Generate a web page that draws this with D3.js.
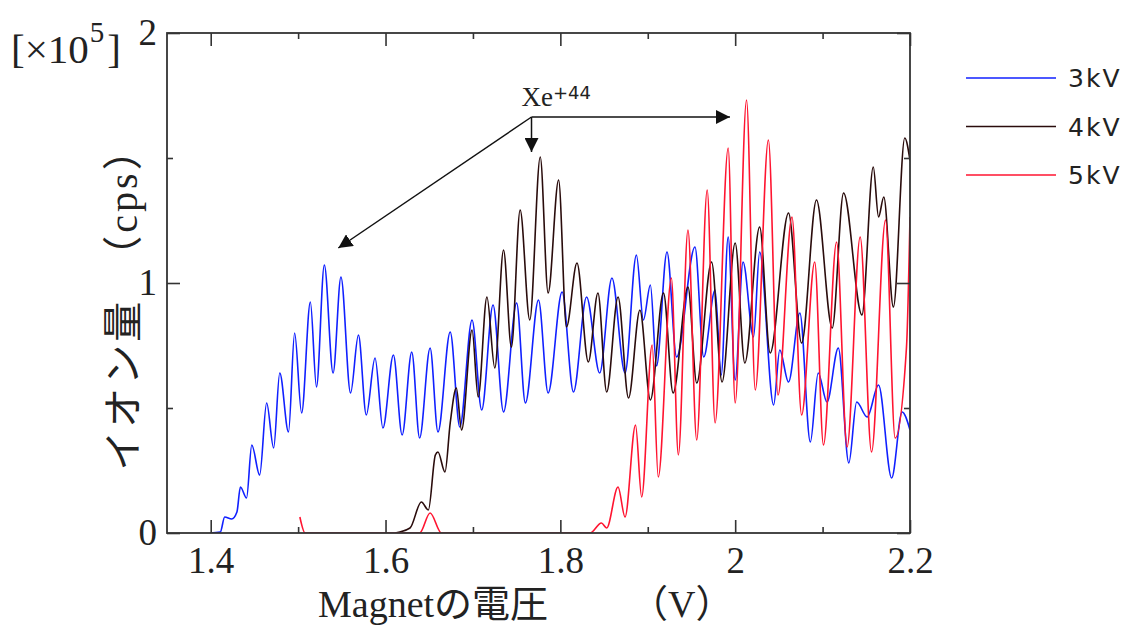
<!DOCTYPE html>
<html>
<head>
<meta charset="utf-8">
<script src="https://cdn.jsdelivr.net/npm/d3@7/dist/d3.min.js"></script>
<style>
  body { margin: 0; background: #fff; }
  svg text { font-family: "Liberation Serif", "Noto Sans CJK JP", serif; fill: #222; }
</style>
</head>
<body>
<div id="chart"></div>
<script>
'use strict';

var scan3kV = [
  [1.399, 0], [1.411, 0.004], [1.416, 0.064], [1.424, 0.056], [1.430, 0.084], [1.434, 0.184],
  [1.441, 0.14], [1.447, 0.352], [1.456, 0.232], [1.464, 0.52], [1.472, 0.34], [1.479, 0.64],
  [1.489, 0.404], [1.496, 0.80], [1.504, 0.48], [1.514, 0.924], [1.521, 0.584], [1.530, 1.072],
  [1.540, 0.64], [1.549, 1.024], [1.560, 0.56], [1.569, 0.792], [1.578, 0.472], [1.588, 0.70],
  [1.597, 0.42], [1.609, 0.712], [1.619, 0.392], [1.630, 0.724], [1.639, 0.38], [1.651, 0.74],
  [1.660, 0.404], [1.674, 0.804], [1.685, 0.424], [1.699, 0.852], [1.710, 0.492], [1.723, 0.912],
  [1.735, 0.484], [1.750, 0.92], [1.760, 0.52], [1.775, 0.932], [1.786, 0.56], [1.802, 0.964],
  [1.815, 0.564], [1.830, 0.944], [1.845, 0.64], [1.859, 1.02], [1.874, 0.64], [1.887, 1.112],
  [1.895, 0.852], [1.903, 0.992], [1.910, 0.668], [1.922, 1.124], [1.933, 0.704], [1.954, 1.144],
  [1.964, 0.704], [1.977, 0.972], [1.984, 0.632], [1.992, 1.184], [2.000, 0.612], [2.009, 1.084],
  [2.021, 0.784], [2.028, 1.124], [2.044, 0.512], [2.051, 0.732], [2.061, 0.604], [2.074, 0.88],
  [2.086, 0.364], [2.095, 0.64], [2.105, 0.524], [2.118, 0.74], [2.130, 0.28], [2.139, 0.524],
  [2.151, 0.464], [2.164, 0.592], [2.179, 0.22], [2.191, 0.484], [2.200, 0.412]
];

var scan4kV = [
  [1.611, 0], [1.628, 0.02], [1.641, 0.124], [1.649, 0.092], [1.657, 0.312], [1.660, 0.324],
  [1.668, 0.244], [1.674, 0.44], [1.681, 0.58], [1.687, 0.412], [1.699, 0.812], [1.706, 0.544],
  [1.716, 0.944], [1.725, 0.66], [1.735, 1.132], [1.744, 0.744], [1.754, 1.292], [1.765, 0.852],
  [1.777, 1.504], [1.786, 0.96], [1.798, 1.412], [1.807, 0.824], [1.819, 1.08], [1.832, 0.684],
  [1.843, 0.96], [1.853, 0.564], [1.866, 0.944], [1.878, 0.54], [1.891, 0.892], [1.903, 0.532],
  [1.918, 0.96], [1.929, 0.56], [1.946, 0.984], [1.956, 0.60], [1.973, 1.084], [1.985, 0.604],
  [2.000, 1.16], [2.011, 0.68], [2.028, 1.224], [2.040, 0.72], [2.061, 1.28], [2.076, 0.76],
  [2.093, 1.332], [2.111, 0.82], [2.124, 1.36], [2.145, 0.872], [2.158, 1.464], [2.164, 1.264],
  [2.170, 1.344], [2.181, 0.904], [2.194, 1.58], [2.200, 1.49]
];

var scan5kV = [
  [1.502, 0.064], [1.508, 0], [1.639, 0], [1.651, 0.08], [1.664, 0], [1.834, 0],
  [1.847, 0.04], [1.853, 0.02], [1.866, 0.184], [1.874, 0.064], [1.886, 0.432], [1.893, 0.144],
  [1.905, 0.752], [1.912, 0.224], [1.927, 1.02], [1.935, 0.312], [1.946, 1.212], [1.956, 0.372],
  [1.968, 1.372], [1.977, 0.44], [1.992, 1.54], [2.000, 0.52], [2.013, 1.732], [2.023, 0.572],
  [2.038, 1.572], [2.049, 0.552], [2.065, 1.264], [2.076, 0.472], [2.091, 1.084], [2.101, 0.352],
  [2.116, 1.164], [2.128, 0.344], [2.143, 1.184], [2.156, 0.324], [2.172, 1.252], [2.183, 0.38],
  [2.196, 0.744], [2.200, 1.264]
];

var SERIES_LABELS = ['3kV', '4kV', '5kV'];
var SERIES_COLOR = ['#1020ff', '#2a0c0c', '#ff1430'];
var LEGEND_TEXT_COLOR = ['#3a44ff', '#333333', '#ff2a48'];

var X_DOMAIN = [1.35, 2.2];
var Y_DOMAIN = [0, 2];
var X_MAJOR = [1.4, 1.6, 1.8, 2, 2.2];
var X_MINOR = [1.5, 1.7, 1.9, 2.1];
var Y_MAJOR = [0, 1, 2];
var Y_MINOR = [0.5, 1.5];

// Xe+44 annotation: shared corner and the three arrow tips (data units)
var XE_CORNER = [1.767, 1.664];
var XE_TIPS = [[1.546, 1.14], [1.767, 1.524], [1.994, 1.664]];

// Plot frame in pixels
var LEFT = 167, RIGHT = 910, TOP = 33, BOTTOM = 533;

var svg = d3.select('#chart').append('svg')
  .attr('width', 1134)
  .attr('height', 630);

svg.append('rect')
  .attr('width', 1134)
  .attr('height', 630)
  .attr('fill', '#fff');

var x = d3.scaleLinear().domain(X_DOMAIN).range([LEFT, RIGHT]);
var y = d3.scaleLinear().domain(Y_DOMAIN).range([BOTTOM, TOP]);

var defs = svg.append('defs');
defs.append('clipPath')
  .attr('id', 'plotClip')
  .append('rect')
  .attr('x', LEFT)
  .attr('y', TOP - 2)
  .attr('width', RIGHT - LEFT)
  .attr('height', BOTTOM - TOP + 2);

// arrowhead marker
defs.append('marker')
  .attr('id', 'arrowHead')
  .attr('viewBox', '0 0 10 10')
  .attr('refX', 10)
  .attr('refY', 5)
  .attr('markerWidth', 14)
  .attr('markerHeight', 14)
  .attr('markerUnits', 'userSpaceOnUse')
  .attr('orient', 'auto')
  .append('path')
  .attr('d', 'M0,0 L10,5 L0,10 Z')
  .attr('fill', '#111');

// series
var line = d3.line()
  .curve(d3.curveMonotoneX)
  .x(function(d) { return x(d[0]); })
  .y(function(d) { return y(d[1]); });

var plot = svg.append('g').attr('clip-path', 'url(#plotClip)');
[scan3kV, scan4kV, scan5kV].forEach(function(data, i) {
  plot.append('path')
    .datum(data)
    .attr('d', line)
    .attr('fill', 'none')
    .attr('stroke', SERIES_COLOR[i])
    .attr('stroke-width', 1.6)
    .attr('stroke-linejoin', 'round');
});

// axes: ticks point inward on all four sides
function styleAxis(g) {
  g.select('.domain').remove();
  g.selectAll('line').attr('stroke', '#333').attr('stroke-width', 1.6);
  g.selectAll('text')
    .style('font-family', '"Liberation Serif", serif')
    .style('font-size', '37px')
    .attr('fill', '#222');
}

var fmt = d3.format('~g');

svg.append('g')
  .attr('transform', 'translate(0,' + BOTTOM + ')')
  .call(d3.axisBottom(x).tickValues(X_MAJOR).tickSize(-13).tickPadding(14).tickFormat(fmt))
  .call(styleAxis);
svg.append('g')
  .attr('transform', 'translate(0,' + BOTTOM + ')')
  .call(d3.axisBottom(x).tickValues(X_MINOR).tickSize(-6).tickFormat(''))
  .call(styleAxis);
svg.append('g')
  .attr('transform', 'translate(0,' + TOP + ')')
  .call(d3.axisTop(x).tickValues(X_MAJOR).tickSize(-13).tickFormat(''))
  .call(styleAxis);
svg.append('g')
  .attr('transform', 'translate(0,' + TOP + ')')
  .call(d3.axisTop(x).tickValues(X_MINOR).tickSize(-6).tickFormat(''))
  .call(styleAxis);

svg.append('g')
  .attr('transform', 'translate(' + LEFT + ',0)')
  .call(d3.axisLeft(y).tickValues(Y_MAJOR).tickSize(-13).tickPadding(10).tickFormat(fmt))
  .call(styleAxis);
svg.append('g')
  .attr('transform', 'translate(' + LEFT + ',0)')
  .call(d3.axisLeft(y).tickValues(Y_MINOR).tickSize(-6).tickFormat(''))
  .call(styleAxis);
svg.append('g')
  .attr('transform', 'translate(' + RIGHT + ',0)')
  .call(d3.axisRight(y).tickValues(Y_MAJOR).tickSize(-13).tickFormat(''))
  .call(styleAxis);
svg.append('g')
  .attr('transform', 'translate(' + RIGHT + ',0)')
  .call(d3.axisRight(y).tickValues(Y_MINOR).tickSize(-6).tickFormat(''))
  .call(styleAxis);

// frame
svg.append('rect')
  .attr('x', LEFT)
  .attr('y', TOP)
  .attr('width', RIGHT - LEFT)
  .attr('height', BOTTOM - TOP)
  .attr('fill', 'none')
  .attr('stroke', '#333')
  .attr('stroke-width', 1.8);

// exponent marker
var expo = svg.append('text')
  .attr('x', 11)
  .attr('y', 63)
  .style('font-size', '41px');
expo.append('tspan').text('[×10');
expo.append('tspan').attr('dy', -21).attr('dx', 1).style('font-size', '29px').text('5');
expo.append('tspan').attr('dy', 21).attr('dx', 3).text(']');

// axis titles
var xTitle = svg.append('text')
  .attr('x', 318)
  .attr('y', 617)
  .style('font-size', '38px');
xTitle.append('tspan').text('Magnetの電圧');
xTitle.append('tspan').attr('x', 630).text('（V）');

svg.append('text')
  .attr('transform', 'translate(137,299) rotate(-90)')
  .attr('text-anchor', 'middle')
  .style('font-size', '40px')
  .style('letter-spacing', '3px')
  .text('イオン量\u3000（cps）');

// Xe+44 annotation
var corner = [x(XE_CORNER[0]), y(XE_CORNER[1])];
XE_TIPS.forEach(function(t) {
  svg.append('line')
    .attr('x1', corner[0])
    .attr('y1', corner[1])
    .attr('x2', x(t[0]))
    .attr('y2', y(t[1]))
    .attr('stroke', '#111')
    .attr('stroke-width', 1.5)
    .attr('marker-end', 'url(#arrowHead)');
});

var xe = svg.append('text')
  .attr('x', corner[0] - 10)
  .attr('y', corner[1] - 11)
  .style('font-size', '27px');
xe.append('tspan').text('Xe');
xe.append('tspan')
  .attr('dy', -7)
  .style('font-family', '"DejaVu Sans", sans-serif')
  .style('font-size', '18px')
  .text('+44');

// legend
var legend = svg.append('g');
SERIES_LABELS.forEach(function(label, i) {
  var ly = 78 + i * 48.5;
  legend.append('line')
    .attr('x1', 966)
    .attr('x2', 1056)
    .attr('y1', ly)
    .attr('y2', ly)
    .attr('stroke', SERIES_COLOR[i])
    .attr('stroke-width', 1.6);
  legend.append('text')
    .attr('x', 1068)
    .attr('y', ly + 9)
    .style('font-family', '"DejaVu Sans", sans-serif')
    .style('font-size', '25px')
    .style('letter-spacing', '2px')
    .attr('fill', LEGEND_TEXT_COLOR[i])
    .text(label);
});
</script>
</body>
</html>
